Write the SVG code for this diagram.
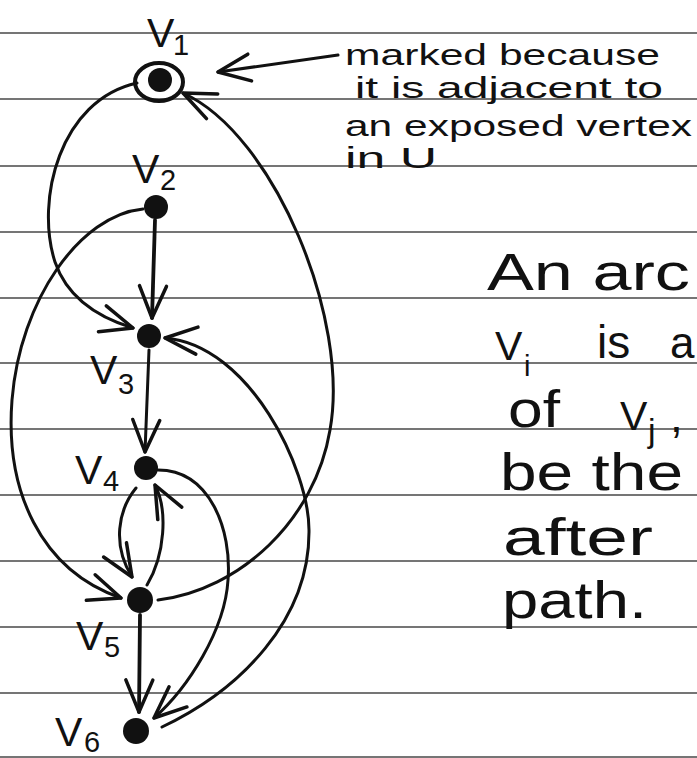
<svg xmlns="http://www.w3.org/2000/svg" width="697" height="758" viewBox="0 0 697 758">
<defs>
<style>
.rule{stroke:#474747;stroke-width:1.6}
.edge{fill:none;stroke:#111;stroke-width:3;stroke-linecap:round;stroke-linejoin:round}
.thick{stroke-width:3.8}
.dot{fill:#111}
.ring{fill:none;stroke:#111;stroke-width:4}
.lbl{font-family:"Liberation Sans",Arial,sans-serif;fill:#111}
.v{font-size:41px}
.sub{font-size:29px}
.note{font-size:30px}
.big{font-size:52px}
</style>
<marker id="ah" markerUnits="userSpaceOnUse" markerWidth="40" markerHeight="40" refX="0" refY="0" orient="auto" overflow="visible">
<path d="M-32,-13.5 L0,0 L-32,13.5" fill="none" stroke="#111" stroke-width="3.5" stroke-linecap="round" stroke-linejoin="round"/>
</marker>
</defs>
<rect width="697" height="758" fill="#fff"/>
<g id="ruling">
<line class="rule" x1="0" y1="33" x2="697" y2="33"/>
<line class="rule" x1="0" y1="99" x2="697" y2="99"/>
<line class="rule" x1="0" y1="166" x2="697" y2="166"/>
<line class="rule" x1="0" y1="232" x2="697" y2="232"/>
<line class="rule" x1="0" y1="298" x2="697" y2="298"/>
<line class="rule" x1="0" y1="363" x2="697" y2="363"/>
<line class="rule" x1="0" y1="429" x2="697" y2="429"/>
<line class="rule" x1="0" y1="495" x2="697" y2="495"/>
<line class="rule" x1="0" y1="561" x2="697" y2="561"/>
<line class="rule" x1="0" y1="627" x2="697" y2="627"/>
<line class="rule" x1="0" y1="693" x2="697" y2="693"/>
<line class="rule" x1="0" y1="757" x2="697" y2="757"/>
</g>
<g id="connectors">
<path class="edge" d="M137,83 C60,100 35,200 55,262 C68,300 100,318 133,328" marker-end="url(#ah)"/>
<path class="edge thick" d="M155,220 L152,318" marker-end="url(#ah)"/>
<path class="edge" d="M143,209 C80,215 20,300 12,400 C5,490 40,570 121,598" marker-end="url(#ah)"/>
<path class="edge" d="M149,350 L145,452" marker-end="url(#ah)"/>
<path class="edge" d="M136,488 C118,510 112,545 132,577" marker-end="url(#ah)"/>
<path class="edge" d="M147,585 C165,555 168,510 155,485" marker-end="url(#ah)"/>
<path class="edge" d="M158,470 C210,470 232,530 228,580 C225,630 188,688 154,718" marker-end="url(#ah)"/>
<path class="edge thick" d="M140,615 L139,712" marker-end="url(#ah)"/>
<path class="edge" d="M162,727 C240,690 310,620 309,530 C309,470 250,345 165,338" marker-end="url(#ah)"/>
<path class="edge" d="M158,600 C240,590 315,520 330,430 C350,320 275,135 183,93" marker-end="url(#ah)"/>
<path class="edge" d="M338,55 L218,72" marker-end="url(#ah)"/>
</g>
<g id="v1">
<ellipse class="ring" cx="159" cy="82" rx="24" ry="19"/>
<circle class="dot" cx="160" cy="80" r="12"/>
<text class="lbl v" x="147" y="47">V</text><text class="lbl sub" x="173" y="55">1</text>
</g>
<g id="v2">
<circle class="dot" cx="156" cy="207" r="12"/>
<text class="lbl v" x="132" y="183">V</text><text class="lbl sub" x="160" y="190">2</text>
</g>
<g id="v3">
<circle class="dot" cx="149" cy="336" r="12"/>
<text class="lbl v" x="90" y="384">V</text><text class="lbl sub" x="118" y="394">3</text>
</g>
<g id="v4">
<circle class="dot" cx="146" cy="468" r="12"/>
<text class="lbl v" x="75" y="484">V</text><text class="lbl sub" x="103" y="491">4</text>
</g>
<g id="v5">
<circle class="dot" cx="140" cy="600" r="13"/>
<text class="lbl v" x="76" y="650">V</text><text class="lbl sub" x="104" y="657">5</text>
</g>
<g id="v6">
<circle class="dot" cx="136" cy="731" r="13"/>
<text class="lbl v" x="55" y="746">V</text><text class="lbl sub" x="84" y="752">6</text>
</g>
<g id="note">
<text class="lbl note" x="345" y="65" textLength="315" lengthAdjust="spacingAndGlyphs">marked because</text>
<text class="lbl note" x="355" y="98" textLength="308" lengthAdjust="spacingAndGlyphs">it is adjacent to</text>
<text class="lbl note" x="345" y="136" textLength="347" lengthAdjust="spacingAndGlyphs">an exposed vertex</text>
<text class="lbl note" x="345" y="168" textLength="92" lengthAdjust="spacingAndGlyphs">in U</text>
</g>
<g id="explanation">
<text class="lbl big" x="487" y="290" textLength="203" lengthAdjust="spacingAndGlyphs">An arc</text>
<text class="lbl v" x="495" y="360">V</text><text class="lbl sub" x="524" y="376">i</text>
<text class="lbl" font-size="46" x="597" y="358">is</text>
<text class="lbl" font-size="44" x="670" y="358">a</text>
<text class="lbl big" x="508" y="427" textLength="52" lengthAdjust="spacingAndGlyphs">of</text>
<text class="lbl v" x="620" y="430">V</text><text class="lbl" font-size="34" x="648" y="442">j</text><text class="lbl" font-size="46" x="670" y="432">,</text>
<text class="lbl big" x="500" y="490" textLength="183" lengthAdjust="spacingAndGlyphs">be the</text>
<text class="lbl big" x="503" y="555" textLength="150" lengthAdjust="spacingAndGlyphs">after</text>
<text class="lbl big" x="502" y="618" textLength="145" lengthAdjust="spacingAndGlyphs">path.</text>
</g>
</svg>
